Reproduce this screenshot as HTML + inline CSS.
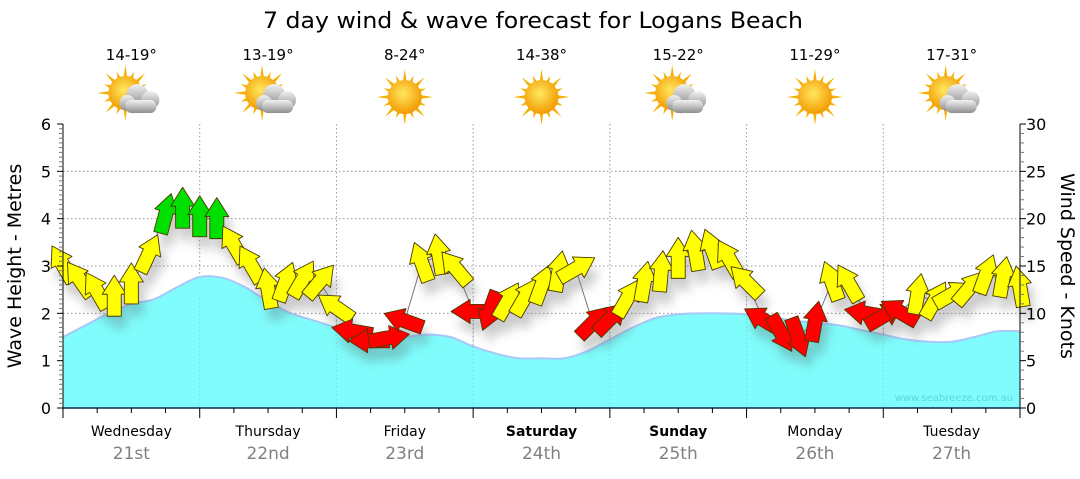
<!DOCTYPE html>
<html><head><meta charset="utf-8"><style>
body{margin:0;background:#fff;width:1080px;height:475px;overflow:hidden;font-family:"DejaVu Sans",sans-serif}
svg text{font-family:"DejaVu Sans","Liberation Sans",sans-serif}
</style></head><body>
<svg id="chart" width="1080" height="475" viewBox="0 0 1080 475" xmlns="http://www.w3.org/2000/svg">
<defs>
<filter id="sh" x="-50%" y="-50%" width="200%" height="200%"><feGaussianBlur stdDeviation="5"/></filter>
<radialGradient id="sunG" cx="45%" cy="40%" r="60%"><stop offset="0" stop-color="#ffe860"/><stop offset="1" stop-color="#f29a00"/></radialGradient>
<linearGradient id="cloudG" x1="0" y1="0" x2="0" y2="1"><stop offset="0" stop-color="#f2f2f2"/><stop offset="1" stop-color="#8e8e8e"/></linearGradient>
</defs>
<text x="533" y="28" font-size="22" text-anchor="middle" textLength="540" lengthAdjust="spacingAndGlyphs" fill="#000">7 day wind &amp; wave forecast for Logans Beach</text>
<g id="top"></g>
<g id="grid"></g>
<g id="wave"></g>
<g id="wind"></g>
<g id="axes"></g>
<text x="1013" y="401" font-size="10" text-anchor="end" fill="#5cd6e0">www.seabreeze.com.au</text>
<text transform="translate(21,266) rotate(-90)" font-size="19" text-anchor="middle">Wave Height - Metres</text>
<text transform="translate(1061,266) rotate(90)" font-size="19" text-anchor="middle">Wind Speed - Knots</text>
</svg>
<script>
const days=["Wednesday","Thursday","Friday","Saturday","Sunday","Monday","Tuesday"];
const dates=["21st","22nd","23rd","24th","25th","26th","27th"];
const boldDays=[false,false,false,true,true,false,false];
const temps=["14-19°","13-19°","8-24°","14-38°","15-22°","11-29°","17-31°"];
const cloudy=[true,true,false,false,true,false,true];
const waveTicks=[0,1,2,3,4,5,6];
const windTicks=[0,5,10,15,20,25,30];
// wave height every 6 hours (metres)
const waveHeights=[1.5,1.75,2.0,2.2,2.3,2.55,2.77,2.75,2.55,2.25,2.0,1.85,1.7,1.55,1.45,1.5,1.55,1.5,1.3,1.15,1.05,1.05,1.05,1.2,1.45,1.7,1.9,1.98,2.0,2.0,1.98,1.92,1.85,1.8,1.75,1.65,1.55,1.45,1.4,1.4,1.5,1.62,1.62];
// wind every 3 hours: speed (knots) and direction arrow points toward (deg, 0=up)
const windSpeed=[15.1,13.5,12.3,11.7,13.0,16.2,20.4,21.0,20.1,19.9,17.2,15.1,12.5,13.2,13.5,13.3,10.6,8.1,7.1,7.4,9.2,15.3,16.1,14.7,10.2,10.4,11.2,11.6,12.9,14.3,14.7,9.0,9.4,11.5,13.2,14.3,15.7,16.5,16.7,15.7,13.3,9.3,8.0,7.6,9.0,13.3,13.1,10.0,9.7,10.1,11.9,11.3,12.0,12.6,14.0,13.7,12.7];
const windDir=[-30,-35,-30,0,0,25,15,0,0,0,-30,-30,-10,20,30,40,-55,-80,-90,80,-70,-20,-10,-40,-90,200,30,30,20,10,60,45,45,30,10,5,0,-10,-20,-30,-45,-60,150,160,10,-20,-30,-80,60,-60,10,30,60,40,20,10,-10];

const X0=63,X1=1020,Y0=408,Y1=124,HOURS=168;
const xs=h=>X0+(X1-X0)*h/HOURS;
const yW=m=>Y0-(Y0-Y1)*m/6;
const yK=k=>Y0-(Y0-Y1)*k/30;
const NS="http://www.w3.org/2000/svg";
function mk(tag,attrs,parent){const e=document.createElementNS(NS,tag);for(const k in attrs)e.setAttribute(k,attrs[k]);parent.appendChild(e);return e;}
const g=id=>document.getElementById(id);

// top: temps + icons
days.forEach((d,i)=>{
  const cx=xs(24*i+12);
  const t=mk('text',{x:cx,y:60,'font-size':15,'text-anchor':'middle'},g('top'));
  t.textContent=temps[i];
  
  
  const ic=mk('g',{transform:`translate(${cx},${97})`},g('top'));
  
  
  const sx=cloudy[i]?-6:0, sy=cloudy[i]?-4:0;
  for(let r=0;r<16;r++){const a=r*Math.PI/8;const L=r%2?23:28;
    mk('polygon',{points:`${sx+Math.cos(a-0.13)*15},${sy+Math.sin(a-0.13)*15} ${sx+Math.cos(a)*L},${sy+Math.sin(a)*L} ${sx+Math.cos(a+0.13)*15},${sy+Math.sin(a+0.13)*15}`,fill:'#f5b000'},ic);}
  mk('circle',{cx:sx,cy:sy,r:17,fill:'url(#sunG)'},ic);
  if(cloudy[i]){
    const cg=mk('g',{fill:'url(#cloudG)'},ic);
    mk('circle',{cx:6,cy:-2,r:11},cg);mk('circle',{cx:19,cy:3,r:9},cg);mk('circle',{cx:-4,cy:6,r:8},cg);
    mk('rect',{x:-6,y:3,width:31,height:13,rx:6},cg);
  }
});

// grid
for(let m=1;m<6;m++){const l=mk('line',{x1:X0,x2:X1,y1:yW(m),y2:yW(m),stroke:'#999','stroke-dasharray':'1.5,2.5'},g('grid'));
  }
for(let d=1;d<7;d++){const l=mk('line',{x1:xs(24*d),x2:xs(24*d),y1:Y1,y2:Y0,stroke:'#999','stroke-dasharray':'1.5,2.5'},g('grid'));
  }

// wave area (smooth)
const wp=waveHeights.map((v,j)=>[xs(j*168/(waveHeights.length-1)),yW(v)]);
let dPath=`M${wp[0][0]},${wp[0][1]}`;
for(let i=0;i<wp.length-1;i++){const p0=wp[Math.max(0,i-1)],p1=wp[i],p2=wp[i+1],p3=wp[Math.min(wp.length-1,i+2)];
  dPath+=` C${p1[0]+(p2[0]-p0[0])/6},${p1[1]+(p2[1]-p0[1])/6} ${p2[0]-(p3[0]-p1[0])/6},${p2[1]-(p3[1]-p1[1])/6} ${p2[0]},${p2[1]}`;}
const area=mk('path',{d:dPath+` L${X1},${Y0} L${X0},${Y0} Z`,fill:'#80fcfc'},g('wave'));


const edge=mk('path',{d:dPath,fill:'none',stroke:'#a8c8f8','stroke-width':2},g('wave'));


for(let d=1;d<7;d++)mk('line',{x1:xs(24*d),x2:xs(24*d),y1:Y0,y2:Y0-110,stroke:'#6cd','stroke-dasharray':'1.5,2.5','stroke-opacity':0.6},g('wave'));

// wind
const wpts=windSpeed.map((s,i)=>[xs(i*3),yK(s)]);
const shadow=mk('g',{filter:'url(#sh)',opacity:0.3},g('wind'));
const conn=mk('polyline',{points:wpts.map(p=>p.join(',')).join(' '),fill:'none',stroke:'#777','stroke-width':1},g('wind'));


const arrowPts="0,-22 12,-3 7,-3 7,19 -7,19 -7,-3 -12,-3";
windSpeed.forEach((s,i)=>{
  const [x,y]=wpts[i];
  const col=s<10.5?'#ff0000':(s>=18.5?'#00e000':'#ffff00');
  mk('polygon',{points:arrowPts,transform:`translate(${x+5},${y+12}) rotate(${windDir[i]})`,fill:'#555'},shadow);
  const a=mk('polygon',{points:arrowPts,transform:`translate(${x},${y}) rotate(${windDir[i]})`,fill:col,stroke:'#4a3a00','stroke-width':0.9,'stroke-linejoin':'round'},g('wind'));
  
  
});

// axes
const ax=g('axes');
mk('line',{x1:X0,x2:X0,y1:Y1,y2:Y0,stroke:'#000'},ax);
mk('line',{x1:X1,x2:X1,y1:Y1,y2:Y0,stroke:'#000'},ax);
mk('line',{x1:X0,x2:X1,y1:Y0,y2:Y0,stroke:'#0b2a4a','stroke-width':1.5},ax);
for(let k=0;k<=60;k++){const y=Y0-(Y0-Y1)*k/60;mk('line',{x1:X0-(k%10?4:6),x2:X0,y1:y,y2:y,stroke:k%10?'#777':'#000'},ax);}
for(let k=0;k<=30;k++){const y=yK(k);mk('line',{x1:X1,x2:X1+(k%5?4:6),y1:y,y2:y,stroke:k%5?'#777':'#000'},ax);}
waveTicks.forEach(v=>{const t=mk('text',{x:X0-12,y:yW(v)+6,'font-size':16,'text-anchor':'end'},ax);t.textContent=v;
  });
windTicks.forEach(v=>{const t=mk('text',{x:X1+6,y:yK(v)+6,'font-size':16,'text-anchor':'start'},ax);t.textContent=v;
  });
for(let h=0;h<=168;h+=6){const x=xs(h);mk('line',{x1:x,x2:x,y1:Y0,y2:Y0+(h%24?5:10),stroke:'#000'},ax);}
days.forEach((d,i)=>{const cx=xs(24*i+12);
  const t=mk('text',{x:cx,y:436,'font-size':14,'text-anchor':'middle','font-weight':boldDays[i]?'bold':'normal'},ax);t.textContent=d;
  
  const t2=mk('text',{x:cx,y:459,'font-size':17,'text-anchor':'middle',fill:'#808080'},ax);t2.textContent=dates[i];
  });
</script>
</body></html>
